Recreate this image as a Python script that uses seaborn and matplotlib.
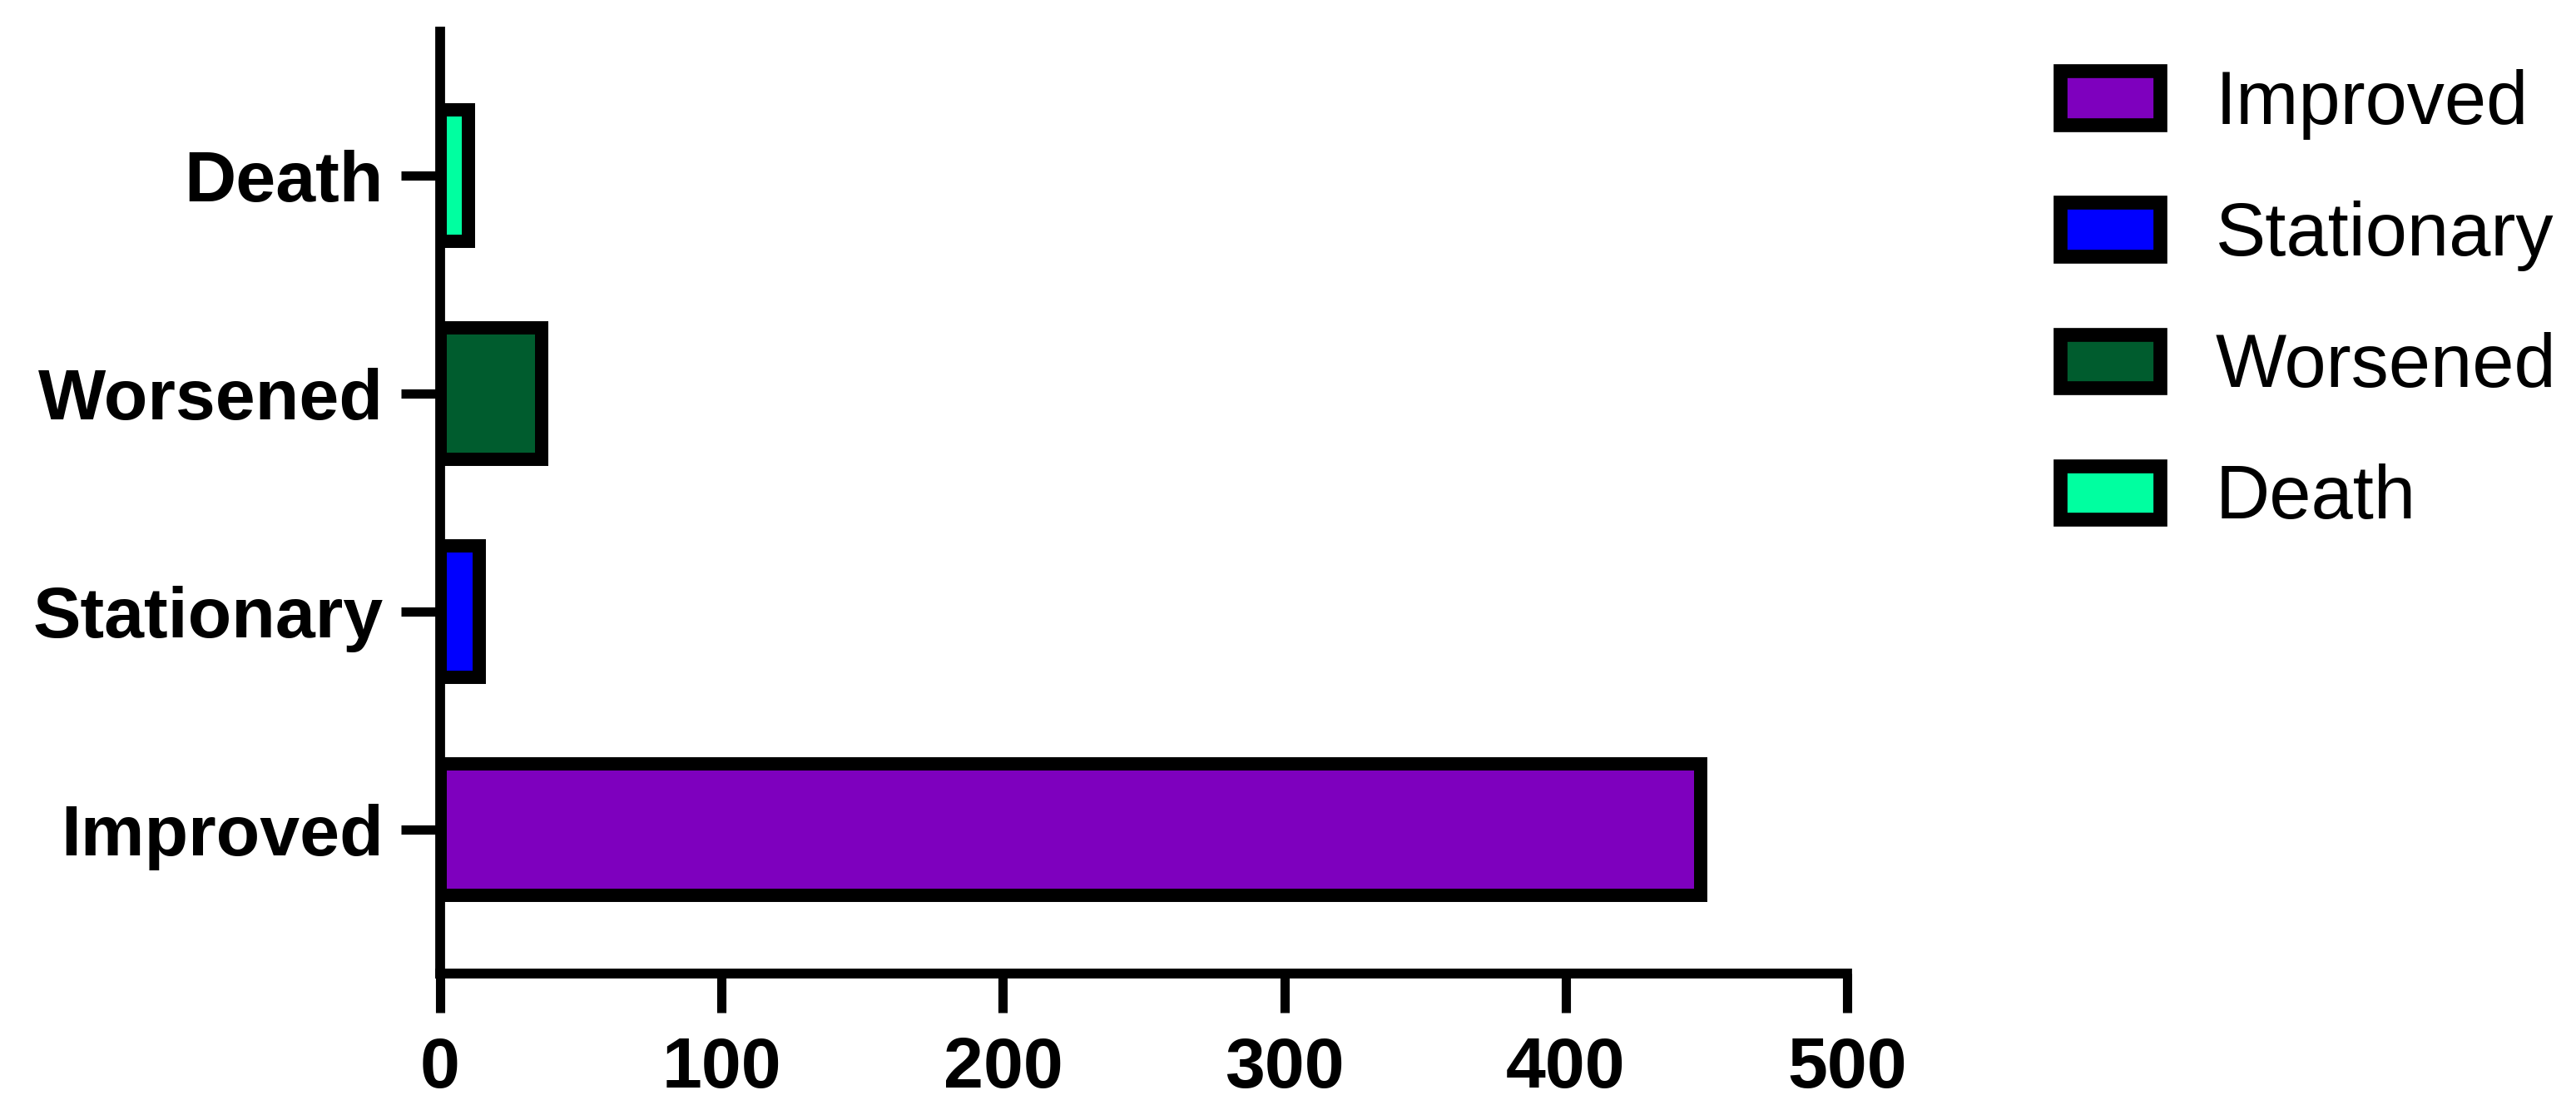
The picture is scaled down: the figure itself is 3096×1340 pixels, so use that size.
import matplotlib
matplotlib.use("Agg")
import matplotlib.pyplot as plt
from matplotlib.patches import Patch
import seaborn as sns
import pandas as pd

# ---- data ----
categories = ["Improved", "Stationary", "Worsened", "Death"]
counts = [448, 14, 36, 10]
colors = ["#7E00BE", "#0000FF", "#005C2E", "#00FFA0"]
axis_order = ["Death", "Worsened", "Stationary", "Improved"]
x_ticks = [0, 100, 200, 300, 400, 500]

df = pd.DataFrame({"Outcome": categories, "Count": counts})
palette = dict(zip(categories, colors))

sns.set_style("ticks")
plt.rcParams["font.family"] = ["Liberation Sans", "DejaVu Sans"]
plt.rcParams["text.color"] = "black"
plt.rcParams["xtick.color"] = "black"
plt.rcParams["ytick.color"] = "black"
plt.rcParams["axes.labelcolor"] = "black"

W, H = 3096, 1340
fig = plt.figure(figsize=(W / 100, H / 100), dpi=100)
ax = fig.add_axes([529 / W, 1 - 1170 / H, (2220 - 529) / W, (1170 - 38) / H])

sns.barplot(data=df, y="Outcome", x="Count", hue="Outcome", order=axis_order,
            hue_order=categories, palette=palette, dodge=False, width=0.6,
            edgecolor="black", linewidth=11.5, errorbar=None, legend=False,
            saturation=1, ax=ax, zorder=2)

ax.set_xlim(0, 500)
ax.set_ylim(3.66, -0.66)
ax.set_xticks(x_ticks)
ax.set_xticklabels([str(t) for t in x_ticks])
ax.set_xlabel("")
ax.set_ylabel("")

for s in ["top", "right"]:
    ax.spines[s].set_visible(False)
for s in ["left", "bottom"]:
    ax.spines[s].set_linewidth(8.5)
    ax.spines[s].set_color("black")
    ax.spines[s].set_zorder(5)
    ax.spines[s].set_capstyle("projecting")

ax.tick_params(axis="both", length=34, width=8, color="black", labelcolor="black")
ax.tick_params(axis="x", pad=20)
ax.tick_params(axis="y", pad=15)
for lab in ax.get_xticklabels() + ax.get_yticklabels():
    lab.set_fontsize(62)
    lab.set_fontweight("bold")
    lab.set_color("black")

handles = [Patch(facecolor=palette[c], edgecolor="black", linewidth=12, label=c)
           for c in categories]
fig.legend(handles=handles, loc="upper left", bbox_to_anchor=(2476 / W, 1 - 83 / H),
           frameon=False, fontsize=65, borderpad=0, borderaxespad=0,
           handlelength=1.33, handleheight=0.72, handletextpad=0.74,
           labelspacing=0.81, labelcolor="black")

fig.savefig("out.png", dpi=100, facecolor="white")
